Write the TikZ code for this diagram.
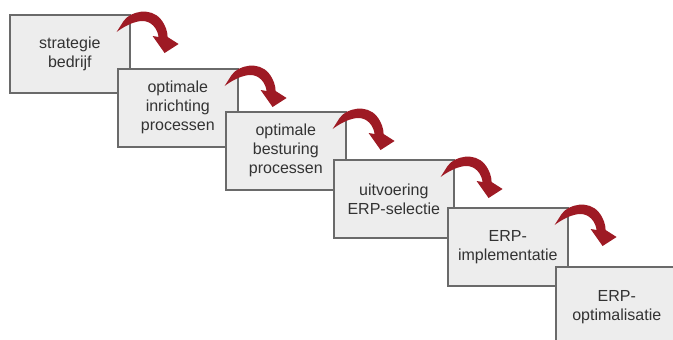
\documentclass[tikz,border=0pt]{standalone}
\usepackage{fontspec}
\setmainfont{Liberation Sans}
\definecolor{boxfill}{HTML}{EDEDED}
\definecolor{boxline}{HTML}{6A6A6A}
\definecolor{txtcol}{HTML}{333333}
\definecolor{arrowred}{HTML}{9E1A24}
\tikzset{
  stepbox/.style={draw=boxline, line width=1.6pt, fill=boxfill, anchor=north west,
    minimum width=120pt, minimum height=78pt, inner sep=2pt, align=center,
    text=txtcol, font=\fontsize{16}{19}\selectfont},
  curlarrow/.style={fill=arrowred}
}
\newcommand{\curlat}[1]{%
  \begin{scope}[shift={(#1)}]
    \fill[curlarrow] (-14,18) -- (-7,7) .. controls (0,-3) and (20,-7) .. (30,5)
      .. controls (35,11) and (37,18) .. (37,23) -- (48,30) -- (34,39) -- (22,22) -- (28,23)
      .. controls (27,15) and (21,7) .. (12,7) .. controls (4,7) and (-6,12) .. (-14,18) -- cycle;
  \end{scope}}
\begin{document}
\begin{tikzpicture}[x=1pt,y=-1pt]
\useasboundingbox (0,0) rectangle (673,340);
\clip (0,0) rectangle (673,340);
\fill[white] (0,0) rectangle (673,340);
\node[stepbox] (b1) at (9,14) {strategie\\bedrijf};
\node[stepbox] (b2) at (117,68) {optimale\\inrichting\\processen};
\node[stepbox] (b3) at (225,111) {optimale\\besturing\\processen};
\node[stepbox] (b4) at (333,159) {uitvoering\\ERP-selectie};
\node[stepbox] (b5) at (447,207) {ERP-\\implementatie};
\node[stepbox, minimum width=122pt, minimum height=80pt] (b6) at (555,266) {ERP-\\optimalisatie};
\curlat{b1.north east}
\curlat{b2.north east}
\curlat{b3.north east}
\curlat{b4.north east}
\curlat{b5.north east}
\end{tikzpicture}
\end{document}
